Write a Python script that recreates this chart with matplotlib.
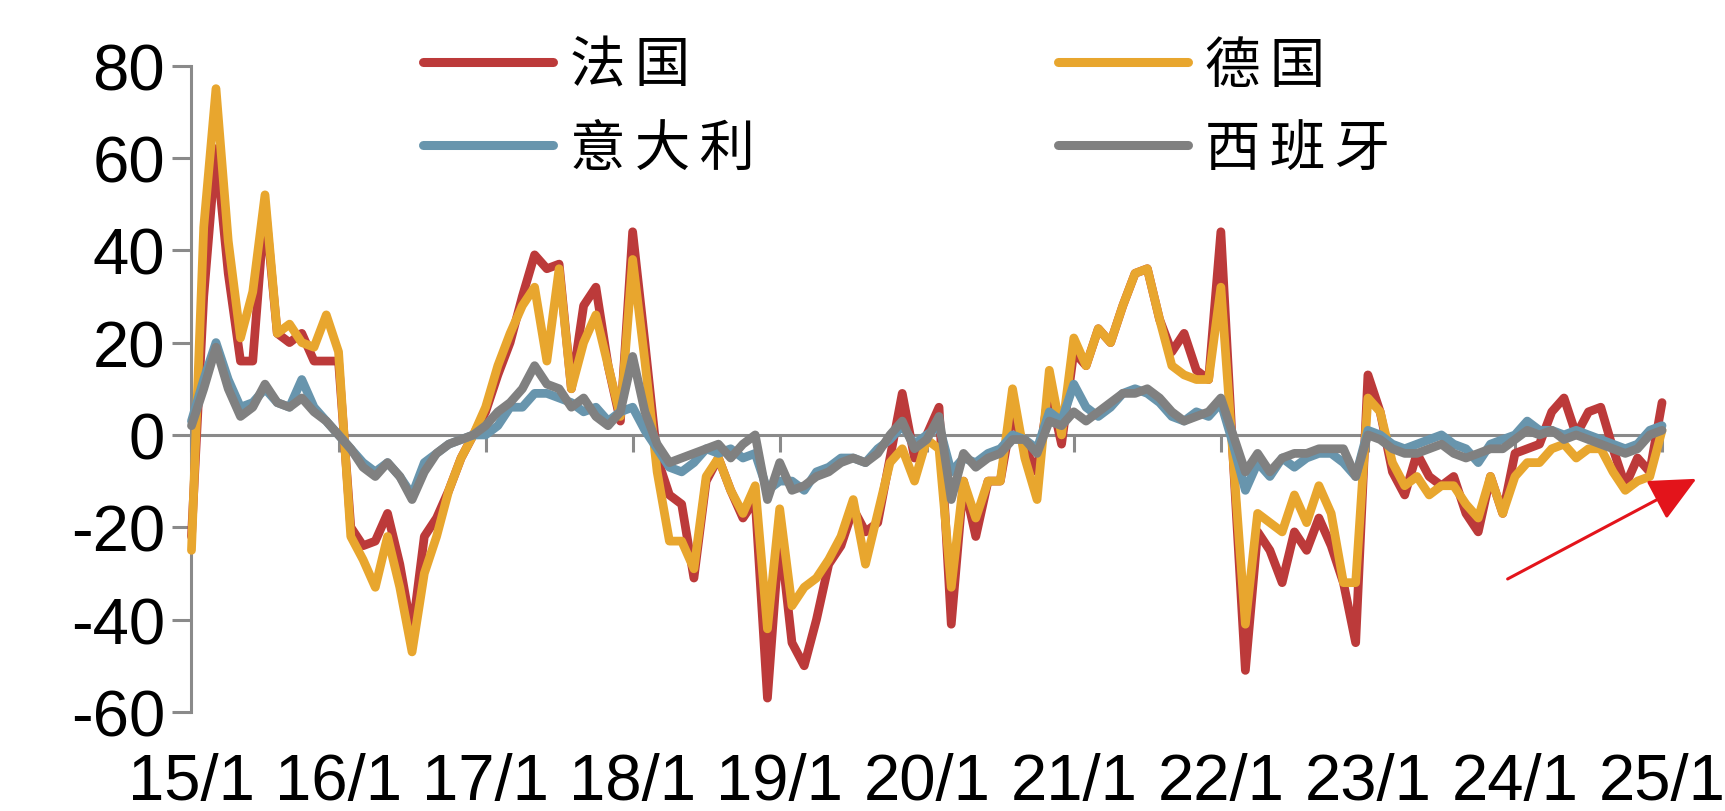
import numpy as np
import matplotlib
matplotlib.use("Agg")
import matplotlib.pyplot as plt

plt.rcParams['axes.unicode_minus'] = False

# Monthly readings, 2015-01 .. 2025-01
tick_labels = ["15/1", "16/1", "17/1", "18/1", "19/1", "20/1",
               "21/1", "22/1", "23/1", "24/1", "25/1"]
series_names = ["法国", "德国", "意大利", "西班牙"]

france = [
    -22, 30, 62, 35, 16, 16, 50, 22, 20, 22, 16, 16,
    16, -20, -24, -23, -17, -28, -43, -22, -18, -12, -5, 0,
    5, 13, 20, 30, 39, 36, 37, 10, 28, 32, 15, 3,
    44, 20, -5, -13, -15, -31, -10, -5, -12, -18, -14, -57,
    -21, -45, -50, -40, -28, -24, -16, -21, -19, -5, 9, -5,
    0, 6, -41, -10, -22, -10, -10, 5, -3, -8, 10, -2,
    18, 15, 23, 20, 28, 35, 36, 25, 18, 22, 14, 12,
    44, -5, -51, -21, -25, -32, -21, -25, -18, -24, -32, -45,
    13, 5, -8, -13, -4, -9, -11, -9, -17, -21, -9, -17,
    -4, -3, -2, 5, 8, 0, 5, 6, -3, -11, -5, -8,
    7,
]
germany = [
    -25, 45, 75, 42, 21, 31, 52, 22, 24, 20, 19, 26,
    18, -22, -27, -33, -22, -33, -47, -30, -22, -12, -5, 0,
    6, 15, 22, 28, 32, 16, 36, 10, 20, 26, 15, 4,
    38, 16, -8, -23, -23, -29, -9, -5, -12, -17, -11, -42,
    -16, -37, -33, -31, -27, -22, -14, -28, -17, -6, -3, -10,
    -1, -3, -33, -10, -18, -10, -10, 10, -5, -14, 14, 0,
    21, 15, 23, 20, 28, 35, 36, 25, 15, 13, 12, 12,
    32, -5, -41, -17, -19, -21, -13, -19, -11, -17, -32, -32,
    8, 5, -6, -11, -9, -13, -11, -11, -15, -18, -9, -17,
    -9, -6, -6, -3, -2, -5, -3, -3, -8, -12, -10, -9,
    1,
]
italy = [
    3, 12, 20, 12, 6, 7, 10, 7, 6, 12, 6, 3,
    0, -3, -6, -8, -6, -9, -13, -6, -4, -2, -1, 0,
    0, 2, 6, 6, 9, 9, 8, 7, 5, 6, 3, 5,
    6, 1, -3, -7, -8, -6, -3, -4, -3, -5, -4, -12,
    -10, -10, -12, -8, -7, -5, -5, -6, -3, -1, 2, -2,
    0, 2, -8, -5, -6, -4, -3, 0, -1, -3, 5, 3,
    11, 6, 4, 6, 9, 10, 9, 7, 4, 3, 5, 4,
    7, -2, -12, -6, -9, -5, -7, -5, -4, -4, -6, -9,
    1, 0, -2, -3, -2, -1, 0, -2, -3, -6, -2, -1,
    0, 3, 1, 1, 0, 1, 0, -1, -2, -3, -2, 1,
    2,
]
spain = [
    2, 10, 19, 10, 4, 6, 11, 7, 6, 8, 5, 3,
    0, -3, -7, -9, -6, -9, -14, -8, -4, -2, -1, 0,
    2, 5, 7, 10, 15, 11, 10, 6, 8, 4, 2, 5,
    17, 5, -2, -6, -5, -4, -3, -2, -5, -2, 0, -14,
    -6, -12, -11, -9, -8, -6, -5, -6, -4, 0, 3, -3,
    -1, 4, -14, -4, -7, -5, -4, -1, -1, -4, 3, 2,
    5, 3, 5, 7, 9, 9, 10, 8, 5, 3, 4, 5,
    8, 0, -8, -4, -8, -5, -4, -4, -3, -3, -3, -9,
    0, -1, -3, -4, -4, -3, -2, -4, -5, -4, -3, -3,
    -1, 1, 0, 1, -1, 0, -1, -2, -3, -4, -3, 0,
    1,
]

colors = ["#BC3A3A", "#E8A62E", "#6895AD", "#808080"]
axis_grey = "#8A8A8A"

fig = plt.figure(figsize=(17.25, 8.12), dpi=100)
ax = fig.add_axes([0.111, 0.122, 0.8525, 0.796])

x = np.arange(len(france))
lines = []
for vals, name, col in zip([france, germany, italy, spain], series_names, colors):
    ln, = ax.plot(x, vals, color=col, lw=6.3, label=name, solid_joinstyle="round",
                  solid_capstyle="round", clip_on=False)
    lines.append(ln)

ax.set_xlim(0, 120)
ax.set_ylim(-60, 80)
ax.set_yticks(np.arange(-60, 81, 20))
ax.set_yticklabels([str(v) for v in range(-60, 81, 20)])
ax.set_xticks(np.arange(0, 121, 12))
ax.set_xticklabels(tick_labels)

for side in ["top", "right"]:
    ax.spines[side].set_visible(False)
ax.spines["bottom"].set_position(("data", 0))
for side in ["left", "bottom"]:
    ax.spines[side].set_color(axis_grey)
    ax.spines[side].set_linewidth(2.2)
    ax.spines[side].set_zorder(1)

ax.tick_params(axis="y", direction="out", length=14, width=2.2, color=axis_grey,
               pad=5, labelsize=47)
ax.tick_params(axis="x", direction="out", length=12, width=2.2, color=axis_grey,
               pad=216, labelsize=47)
for lab in ax.get_xticklabels() + ax.get_yticklabels():
    lab.set_fontfamily("Liberation Sans")

# two rows: 法国 / 德国 on top, 意大利 / 西班牙 below; labels letter-spaced
spaced = ["\u2006".join(n) for n in series_names]
order = [0, 2, 1, 3]
leg = ax.legend([lines[i] for i in order], [spaced[i] for i in order],
                ncol=2, loc="upper left", bbox_to_anchor=(0.245, 0.953),
                bbox_transform=fig.transFigure, frameon=False,
                prop={"family": ["Noto Sans CJK SC", "DejaVu Sans"], "size": 40},
                handlelength=2.35, handletextpad=0.3, columnspacing=5.45,
                labelspacing=0.46, borderpad=0, borderaxespad=0)
for h in leg.get_lines():
    h.set_linewidth(6.5)

ax.annotate("", xy=(122.8, -9.5), xytext=(107.4, -31.2),
            arrowprops=dict(arrowstyle="-|>,head_length=0.8,head_width=0.38",
                            mutation_scale=36, color="#E3141B", lw=2.2,
                            shrinkA=0, shrinkB=0),
            annotation_clip=False)

fig.savefig("out.png", dpi=100, facecolor="white")
